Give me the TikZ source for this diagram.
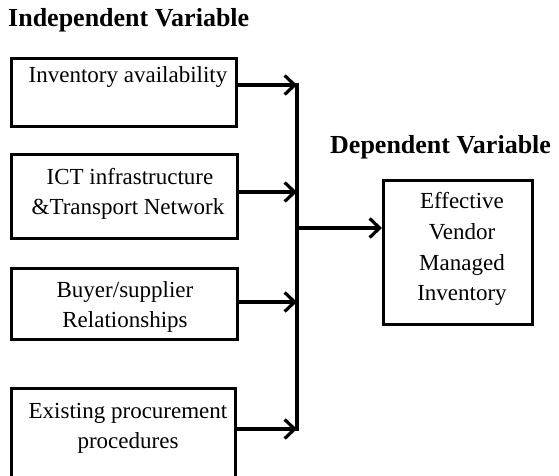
\documentclass[tikz,border=0pt]{standalone}
\usepackage{fontspec}
\setmainfont{Liberation Serif}
\usetikzlibrary{arrows.meta}
\begin{document}
\begin{tikzpicture}[x=1pt,y=-1pt,
  box/.style={draw, line width=3.2pt, inner sep=0pt, anchor=north west},
  txt/.style={anchor=base, inner sep=0pt, font=\fontsize{23}{30}\selectfont},
  head/.style={anchor=base west, inner sep=0pt, font=\fontsize{26}{30}\selectfont\bfseries},
  link/.style={line width=3.2pt, -{Straight Barb[length=10pt,width=19pt,line width=3.2pt]}},
  rail/.style={line width=3.2pt}]
\clip (0,0) rectangle (559,476);

% headings
\node[head] (hin) at (8,27) {Independent Variable};
\node[head] (hdep) at (330,153) {Dependent Variable};

% independent variable boxes
\node[box, minimum width=225pt, minimum height=68pt] (b1) at (10,57) {};
\node[box, minimum width=226pt, minimum height=84pt] (b2) at (10,153) {};
\node[box, minimum width=226pt, minimum height=71pt] (b3) at (10,267) {};
\node[box, minimum width=224pt, minimum height=100pt] (b4) at (10,387) {};

\node[txt] (t1) at (128,83) {Inventory availability};
\node[txt] (t2a) at (130,184) {ICT infrastructure};
\node[txt] (t2b) at (128,214) {\&Transport Network};
\node[txt] (t3a) at (125,297) {Buyer/supplier};
\node[txt] (t3b) at (125,327) {Relationships};
\node[txt] (t4a) at (128,418) {Existing procurement};
\node[txt] (t4b) at (128,448) {procedures};

% dependent variable box
\node[box, minimum width=149pt, minimum height=144pt] (dv) at (382,179) {};
\node[txt] (d1) at (462,208) {Effective};
\node[txt] (d2) at (462,239) {Vendor};
\node[txt] (d3) at (462,270) {Managed};
\node[txt] (d4) at (462,300) {Inventory};

% collecting rail
\coordinate (j1) at (297,85);
\coordinate (j2) at (297,192);
\coordinate (j3) at (297,302);
\coordinate (j4) at (297,429);
\coordinate (jo) at (297,228);
\draw[rail] ([yshift=1.6pt]j1) -- ([yshift=-1.6pt]j4);

\draw[link] (b1.east |- j1) -- (j1);
\draw[link] (b2.east |- j2) -- (j2);
\draw[link] (b3.east |- j3) -- (j3);
\draw[link] (b4.east |- j4) -- (j4);
\draw[link] (jo) -- (dv.west |- jo);
\end{tikzpicture}
\end{document}
